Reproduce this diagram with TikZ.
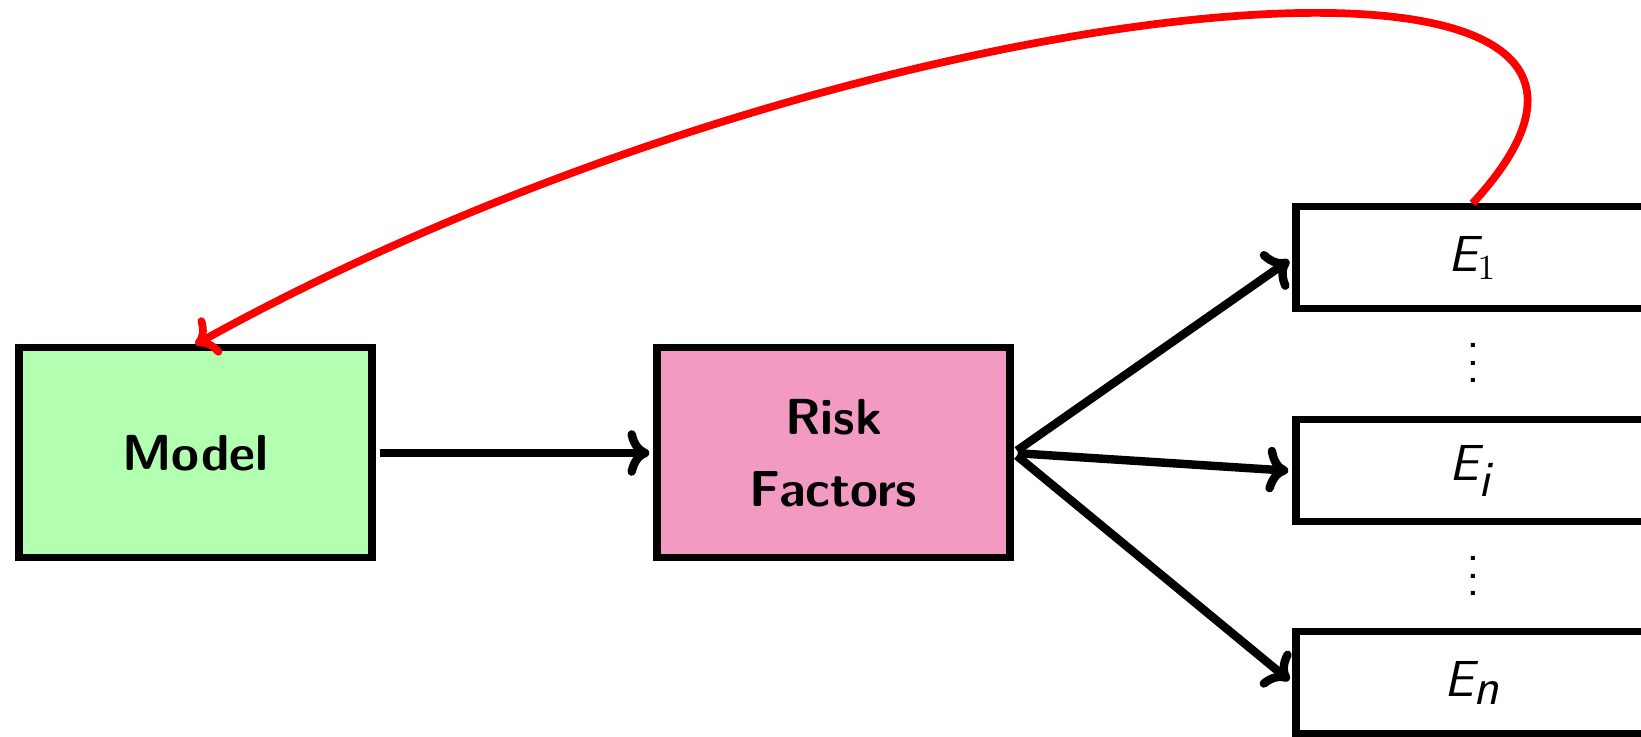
\documentclass[tikz,border=0pt]{standalone}
\usepackage{xcolor}
\usetikzlibrary{arrows.meta}
\definecolor{riskpink}{RGB}{243,154,194}
\begin{document}
\begin{tikzpicture}[
    box/.style={draw, line width=2pt, minimum width=3.53cm, minimum height=2.1cm,
        font=\fontsize{14.4}{20.5}\selectfont\sffamily\bfseries, align=center},
    ebox/.style={draw, line width=2pt, minimum width=3.53cm, minimum height=1.02cm,
        font=\fontsize{14.4}{16}\selectfont\sffamily},
    vdot/.style={font=\fontsize{14.4}{5}\selectfont\sffamily, align=center, inner sep=0pt},
    flow/.style={-{To[scale=0.9]}, line width=2.4pt, shorten <=1.2pt, shorten >=1.2pt},
    back/.style={-{To[scale=0.9]}, red, line width=2.2pt}
]
    \useasboundingbox (0, 0) rectangle (16.41, 7.37);
    \node[box, fill=green!30] (model) at (1.955, 2.84) {Model};
    \node[box, fill=riskpink] (risk) at (8.335, 2.84) {Risk\\Factors};
    \node[ebox] (e1) at (14.725, 4.79) {{\itshape E}$_1$};
    \node[ebox] (ei) at (14.725, 2.66) {{\itshape E}$_{\textsf{\textit{i}}}$};
    \node[ebox] (en) at (14.725, 0.54) {{\itshape E}$_{\textsf{\textit{n}}}$};
    \node[vdot] (dots1) at (14.73, 3.74) {.\\.\\.};
    \node[vdot] (dots2) at (14.73, 1.61) {.\\.\\.};
    \draw[flow] (model) -- (risk);
    \draw[flow] (risk.east) -- (e1.west);
    \draw[flow] (risk.east) -- (ei.west);
    \draw[flow] (risk.east) -- (en.west);
    % feedback to the model
    \draw[back] (e1.north) .. controls +(2.9, 3.15) and +(6.5, 3.6) .. (model.north);
\end{tikzpicture}
\end{document}
